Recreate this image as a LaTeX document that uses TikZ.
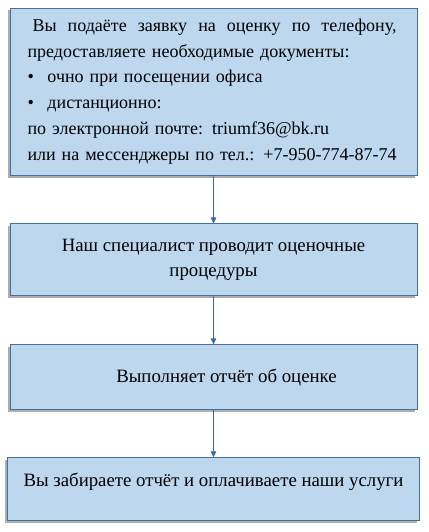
\documentclass[tikz,border=0pt]{standalone}
\usepackage{fontspec}
\setmainfont{Liberation Serif}
\usetikzlibrary{arrows.meta,positioning,shadows}
\definecolor{boxfill}{HTML}{BDD7EE}
\definecolor{boxline}{HTML}{41719C}
\definecolor{arrline}{HTML}{3F64A8}

\begin{document}
\begin{tikzpicture}[
  node distance=48pt,
  box/.style={rectangle, draw=boxline, fill=boxfill, line width=0.9pt,
              minimum width=407pt, inner xsep=16pt, align=center,
              font=\fontsize{18.8}{24.5}\selectfont,
              drop shadow={shadow xshift=-2.5pt, shadow yshift=-2.5pt,
                           opacity=0.45, fill=black!70}},
  arr/.style={draw=arrline, line width=0.8pt,
              -{Triangle[length=6pt, width=5.5pt]}}]
\useasboundingbox (0,0) rectangle (428pt,-532pt);
\node[box, minimum height=167pt, text width=372pt, align=left, inner xsep=17.5pt,
      font=\fontsize{18}{25.8}\selectfont] (request) at (213.5pt,-91.5pt)
  {\hbox to 369pt{\hspace*{5pt}Вы\hfill подаёте\hfill заявку\hfill на\hfill
     оценку\hfill по\hfill телефону,}\\
   предоставляете необходимые документы:\\
   \makebox[20pt][l]{\textbullet}очно при посещении офиса\\
   \makebox[20pt][l]{\textbullet}дистанционно:\\
   по электронной почте: triumf36@bk.ru\\
   или на мессенджеры по тел.: +7-950-774-87-74};
\node[box, minimum height=72pt, below=of request] (survey)
  {Наш специалист проводит оценочные\\ процедуры};
\node[box, minimum height=65pt, below=of survey] (report)
  {\hspace*{26pt}Выполняет отчёт об оценке};
\node[box, minimum height=63pt, below=47pt of report] (payment)
  {Вы забираете отчёт и оплачиваете наши услуги\\[-6pt]};
\draw[arr] (request) -- (survey);
\draw[arr] (survey) -- (report);
\draw[arr] (report) -- (payment);
\end{tikzpicture}
\end{document}
